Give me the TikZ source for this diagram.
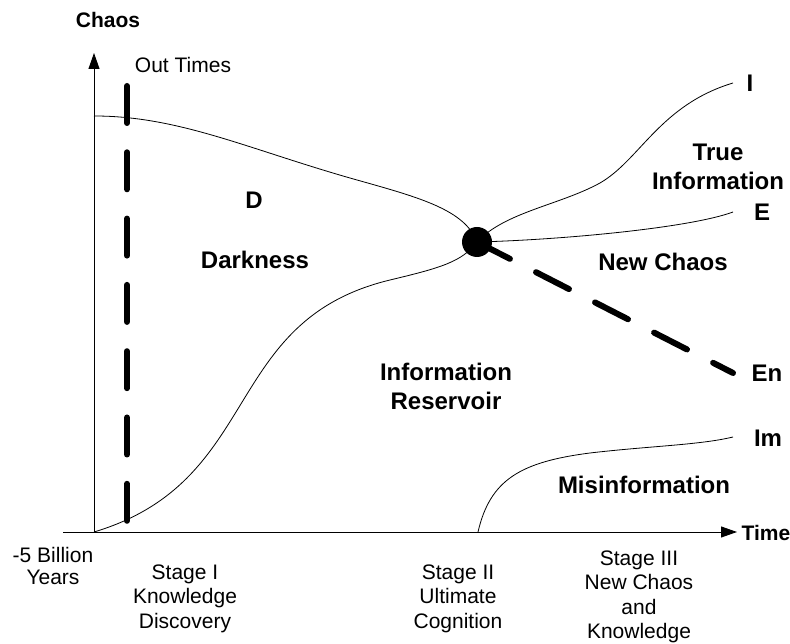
\documentclass[tikz,border=0pt]{standalone}
\usepackage{fontspec}
\setmainfont{Liberation Sans}
\usetikzlibrary{arrows.meta}
\tikzset{
  lbl/.style={anchor=center,inner sep=0pt,outer sep=0pt,align=center,font=\fontsize{21}{24.5}\selectfont},
  axlbl/.style={anchor=center,inner sep=0pt,outer sep=0pt,font=\bfseries\fontsize{21}{24}\selectfont},
  tag/.style={anchor=center,inner sep=0pt,outer sep=0pt,align=center,font=\bfseries\fontsize{24}{29}\selectfont},
  curve/.style={draw=drawColor,line width=0.8pt,line join=round},
  bigdash/.style={draw=drawColor,line width=6pt,line cap=round,dash pattern=on 37pt off 29.3pt},
  axis/.style={draw=drawColor,line width=0.9pt,-{Triangle[length=16pt,width=11pt]}}
}

\begin{document}
\begin{tikzpicture}[x=1pt,y=1pt]
\definecolor{drawColor}{RGB}{0,0,0}
\path[use as bounding box] (0,0) rectangle (790,644);

% axes
\coordinate (O) at ( 94.00,112.00);
\coordinate (xstart) at ( 63.00,112.00);
\coordinate (xend) at (737.00,112.00);
\coordinate (ytop) at ( 94.00,591.00);
\draw[axis] (xstart) -- (xend);
\draw[axis] (O) -- (ytop);

\node[axlbl] (chaos) at (108.00,624.00) {Chaos};
\node[axlbl] (time) at (766.00,111.00) {Time};

% curve end points
\coordinate (topStart) at ( 94.00,528.00);
\coordinate (endI) at (733.00,561.00);
\coordinate (endE) at (733.00,432.00);
\coordinate (endEn) at (733.00,271.00);
\coordinate (imStart) at (478.00,112.00);
\coordinate (endIm) at (733.00,207.00);
\coordinate (outTop) at (127.00,558.00);
\coordinate (outBot) at (127.00,122.00);
\coordinate (ultimate) at (477.00,402.00);

\draw[curve] (topStart) .. controls (180,528) and (250,494) .. (357,464)
	.. controls (420,446.3) and (465,434) .. (ultimate);
\draw[curve] (O) .. controls (264,163) and (220,323) .. (390,364)
	.. controls (440,376) and (462,382) .. (ultimate);
\draw[curve] (ultimate) .. controls (505,432) and (560,439) .. (600,461)
	.. controls (640,484) and (660,539) .. (endI);
\draw[curve] (ultimate) .. controls (560,404) and (690,416) .. (endE);
\draw[curve] (imStart) .. controls (490,164) and (520,182) .. (590,191)
	.. controls (650,198) and (700,199) .. (endIm);

\draw[bigdash] (outTop) -- (outBot);
\draw[bigdash] (ultimate) -- (endEn);

\node[circle,fill=drawColor,inner sep=0pt,minimum size=30pt] (dot) at (ultimate) {};

% region labels
\node[lbl] (outtimes) at (183.00,579.00) {Out Times};
\node[tag] (d) at (254.00,444.00) {D};
\node[tag] (darkness) at (255.00,384.00) {Darkness};
\node[tag] (reservoir) at (446.00,257.80) {Information\\Reservoir};
\node[tag] (trueinfo) at (718.00,477.40) {True\\Information};
\node[tag] (newchaos) at (663.00,382.00) {New Chaos};
\node[tag] (misinfo) at (644.00,159.00) {Misinformation};
\node[tag] (lblI) at (750.00,561.00) {I};
\node[tag] (lblE) at (762.00,432.00) {E};
\node[tag] (lblEn) at (767.00,271.00) {En};
\node[tag] (lblIm) at (768.00,206.00) {Im};

% stages along the time axis
\node[lbl,font=\fontsize{21}{22}\selectfont] (start) at ( 53.00, 77.70) {-5 Billion\\Years};
\node[lbl] (stageone) at (185.00, 45.20) {Stage I\\Knowledge\\Discovery};
\node[lbl] (stagetwo) at (458.00, 45.20) {Stage II\\Ultimate\\Cognition};
\node[lbl] (stagethree) at (639.00, 47.20) {Stage III\\New Chaos\\and\\Knowledge};
\end{tikzpicture}
\end{document}
